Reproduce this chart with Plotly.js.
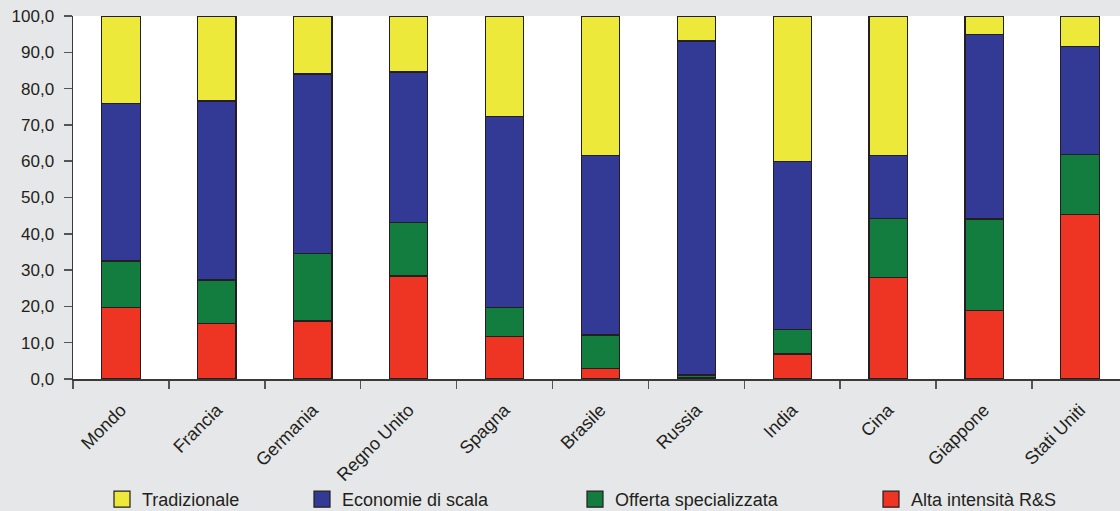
<!DOCTYPE html>
<html><head><meta charset="utf-8">
<script src="https://cdn.plot.ly/plotly-3.0.1.min.js"></script>
<style>body{margin:0;background:#e6e7e8}</style>
</head><body>
<div id="chart" style="width:1120px;height:511px"></div>
<script>
const categories = ["Mondo","Francia","Germania","Regno Unito","Spagna","Brasile","Russia","India","Cina","Giappone","Stati Uniti"];
const altaIntensita = [19.7,15.4,16.0,28.4,11.6,2.8,0.4,6.9,28.0,18.9,45.3];
const offertaSpecializzata = [12.8,11.9,18.6,14.8,8.0,9.3,0.7,6.7,16.2,25.2,16.5];
const economieScala = [43.5,49.3,49.4,41.4,52.8,49.4,92.0,46.3,17.3,50.7,29.9];
const tradizionale = [24.0,23.4,16.0,15.4,27.6,38.5,6.9,40.1,38.5,5.2,8.3];
const yTickVals = [0,10,20,30,40,50,60,70,80,90,100];
const seriesNames = ['Alta intensità R&S','Offerta specializzata','Economie di scala','Tradizionale'];
const seriesColors = ['#ee3524','#137d3f','#323a96','#ede93a'];
const seriesValues = [altaIntensita, offertaSpecializzata, economieScala, tradizionale];
const legendIds = ['legend4','legend3','legend2','legend'];

const outline = {color:'#231f20', width:1.2};
const data = [];
seriesNames.forEach((n,i)=>{
  data.push({type:'bar', name:n, x:categories, y:seriesValues[i], width:0.4,
    marker:{color:seriesColors[i], line:outline}, showlegend:false, hoverinfo:'y+name'});
});
// legend entries (larger square swatches)
seriesNames.forEach((n,i)=>{
  data.push({type:'scatter', mode:'markers', name:n, x:[null], y:[null], legend:legendIds[i],
    marker:{symbol:'square', size:16, color:seriesColors[i], line:{color:'#231f20', width:1.2}},
    showlegend:true, hoverinfo:'skip'});
});
const W = 1047, L = 73, H = 363;
function lg(px){ return {x:(px-L)/W, y:(379-499.5)/H, xanchor:'left', yanchor:'middle', orientation:'h',
  bgcolor:'rgba(0,0,0,0)', borderwidth:0,
  font:{family:'Liberation Sans, Arial, sans-serif', size:18, color:'#231f20'}}; }
const layout = {
  width:1120, height:511,
  margin:{l:L, r:0, t:16, b:132, autoexpand:false},
  paper_bgcolor:'#e6e7e8', plot_bgcolor:'#ffffff',
  barmode:'stack', bargap:0.6,
  showlegend:true,
  font:{family:'Liberation Sans, Arial, sans-serif', color:'#231f20'},
  xaxis:{type:'category', categoryarray:categories, range:[-0.5, 10.417], tickson:'boundaries', ticks:'outside', ticklen:8,
    tickcolor:'#555', tickwidth:1.5, showline:true, linecolor:'#3a3a3a', linewidth:1.5,
    tickangle:-45, tickfont:{size:18}, showgrid:false, zeroline:false, fixedrange:true,
    ticklabelstandoff:12, automargin:false},
  yaxis:{range:[0,100], tickvals:yTickVals, tickformat:'.1f', ticks:'outside', ticklen:8,
    tickcolor:'#555', tickwidth:1.5, showline:true, linecolor:'#3a3a3a', linewidth:1.5,
    tickfont:{size:17}, showgrid:false, zeroline:false, ticklabelstandoff:6, fixedrange:true, automargin:false},
  legend:lg(102), legend2:lg(302), legend3:lg(575), legend4:lg(871),
  separators:',.'
};
Plotly.newPlot('chart', data, layout, {displayModeBar:false, staticPlot:true});
</script>
</body></html>
